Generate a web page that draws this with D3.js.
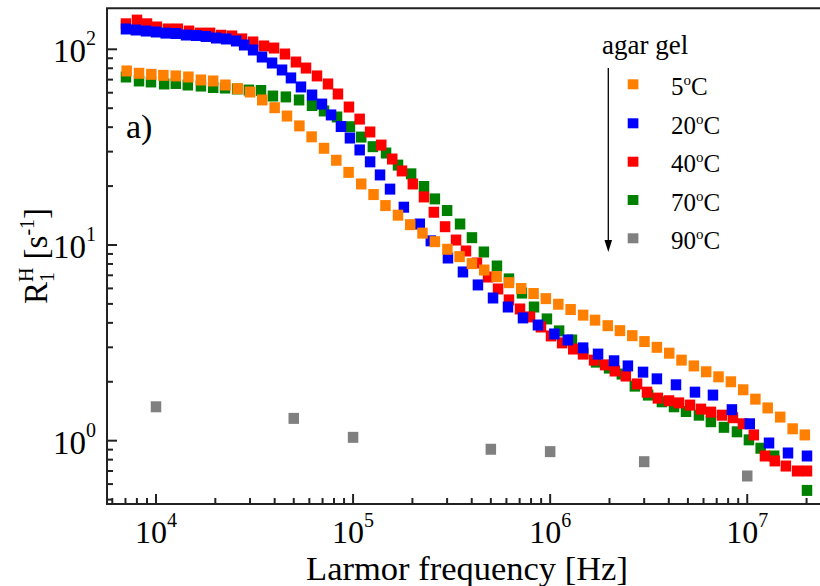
<!DOCTYPE html>
<html>
<head>
<meta charset="utf-8">
<script src="https://cdn.jsdelivr.net/npm/d3@7"></script>
<style>
  body { margin: 0; background: #fff; }
  text { font-family: "Liberation Serif", "Times New Roman", serif; fill: #000; }
</style>
</head>
<body>
<svg width="820" height="586"></svg>
<script>
// agar gel, R1 proton relaxation rate vs Larmor frequency
const freq5 = [7100, 8200, 9470, 10900, 12600, 14600, 16900, 19500, 22500, 26000,
  30000, 34600, 40000, 46200, 53400, 61600, 71200, 82200, 94900, 110000,
  127000, 146000, 169000, 195000, 225000, 260000, 301000, 347000, 401000, 463000,
  535000, 618000, 713000, 824000, 951000, 1100000, 1270000, 1470000, 1690000, 1960000,
  2260000, 2610000, 3010000, 3480000, 4020000, 4640000, 5360000, 6190000, 7150000, 8260000,
  9540000, 11000000, 12700000, 14700000, 17000000, 19600000]
const r1_5 = [77.5, 75.4, 74.5, 73.6, 73.1, 72.2, 69.7, 68.9, 65.7, 62.9,
  60.5, 55.1, 50.3, 45.6, 40.6, 35.7, 31.2, 27.1, 23.5, 20.5,
  18.1, 15.9, 14.2, 12.7, 11.5, 10.4, 9.51, 8.72, 8.03, 7.45,
  6.89, 6.42, 5.99, 5.65, 5.32, 4.98, 4.68, 4.38, 4.13, 3.87,
  3.65, 3.44, 3.21, 3.00, 2.80, 2.58, 2.41, 2.25, 2.12, 2.00,
  1.82, 1.63, 1.47, 1.32, 1.15, 1.07]

const freq20 = [7040, 7910, 8900, 10000, 11200, 12600, 14200, 16000, 17900, 20200,
  22700, 25500, 28000, 31100, 34500, 38800, 43600, 48400, 54400, 61900,
  69500, 77300, 86800, 96400, 108000, 122000, 137000, 154000, 181000, 218000,
  248000, 303000, 361000, 430000, 513000, 611000, 728000, 867000, 1050000, 1230000,
  1470000, 1750000, 2110000, 2480000, 2960000, 3480000, 4350000, 5430000, 6700000, 8360000,
  10300000, 12900000, 16100000, 20100000]
const r1_20 = [127, 125.5, 124, 122.6, 121, 120.4, 118.3, 117.6, 116.3, 114.2,
  112.9, 110.3, 105.2, 99.2, 91.3, 85.1, 78.4, 71.4, 64.2, 58.4,
  52.5, 46.2, 40.3, 35.2, 30.6, 26.6, 22.8, 19.3, 15.6, 12.8,
  10.5, 8.58, 7.28, 6.25, 5.36, 4.82, 4.24, 3.90, 3.51, 3.27,
  2.98, 2.77, 2.56, 2.41, 2.24, 2.07, 1.93, 1.77, 1.71, 1.44,
  1.22, 0.973, 0.865, 0.835]

const freq40 = [7040, 8010, 9000, 10100, 11500, 12900, 14700, 16700, 18800, 21400,
  24300, 27300, 31100, 35300, 39700, 45100, 51300, 57700, 65600, 74600,
  83800, 95300, 108000, 122000, 139000, 158000, 177000, 201000, 229000, 257000,
  293000, 333000, 374000, 425000, 484000, 544000, 618000, 703000, 790000, 898000,
  1010000, 1150000, 1310000, 1470000, 1670000, 1900000, 2130000, 2420000, 2760000, 3100000,
  3520000, 4010000, 4500000, 5120000, 5820000, 6540000, 7440000, 8460000, 9510000, 10800000,
  12300000, 13800000, 15700000, 17900000, 20100000]
const r1_40 = [135, 141, 135, 130, 127, 127, 124, 121, 121, 118,
  117, 113, 109, 104, 101.5, 94.6, 86.1, 80.2, 73.1, 66.5,
  59.1, 50.7, 44.0, 37.8, 32.4, 27.5, 23.9, 20.5, 17.6, 14.7,
  12.4, 10.6, 9.32, 8.09, 6.86, 5.96, 5.24, 4.71, 4.29, 3.81,
  3.43, 3.16, 2.94, 2.77, 2.58, 2.44, 2.27, 2.14, 1.95, 1.77,
  1.65, 1.60, 1.56, 1.52, 1.45, 1.40, 1.35, 1.31, 1.22, 1.07,
  0.835, 0.788, 0.742, 0.700, 0.700]

const freq70 = [7040, 8200, 9430, 11000, 12600, 14500, 16900, 19500, 22400, 25800,
  29600, 34100, 39200, 45600, 53200, 61900, 71200, 82900, 96400, 110000,
  126000, 147000, 169000, 197000, 229000, 260000, 300000, 349000, 401000, 461000,
  537000, 618000, 719000, 828000, 963000, 1110000, 1290000, 1470000, 1710000, 1990000,
  2310000, 2690000, 3140000, 3690000, 4250000, 4890000, 5690000, 6540000, 7620000, 8870000,
  10200000, 11700000, 13700000, 20100000]
const r1_70 = [72.2, 68.9, 68.1, 66.5, 66.9, 65.7, 64.9, 63.8, 63.4, 62.7,
  61.9, 61.6, 57.7, 57.1, 55.1, 51.6, 48.4, 45.1, 40.2, 35.6,
  31.8, 29.5, 25.6, 23.1, 19.9, 17.2, 15.0, 12.8, 10.9, 9.21,
  7.81, 6.71, 5.68, 4.82, 4.19, 3.64, 3.27, 2.81, 2.52, 2.35,
  2.19, 1.90, 1.71, 1.58, 1.49, 1.41, 1.35, 1.25, 1.17, 1.11,
  1.01, 0.915, 0.835, 0.557]

const freq90 = [10000, 50000, 100000, 500000, 1000000, 3000000, 10000000]
const r1_90 = [1.49, 1.30, 1.04, 0.904, 0.879, 0.781, 0.660]

const legendTemps = ["5", "20", "40", "70", "90"]
const legendColors = ["#ff8000", "#0000ff", "#ff0000", "#008000", "#808080"]
const xMajor = [1e4, 1e5, 1e6, 1e7]
const xExp = ["4", "5", "6", "7"]
const yMajor = [1, 10, 100]
const yExp = ["0", "1", "2"]

// draw order: last legend entry at the bottom, 5 C on top
const series = [
  {f: freq90, v: r1_90, color: legendColors[4]},
  {f: freq70, v: r1_70, color: legendColors[3]},
  {f: freq40, v: r1_40, color: legendColors[2]},
  {f: freq20, v: r1_20, color: legendColors[1]},
  {f: freq5,  v: r1_5,  color: legendColors[0]}
]

const plotLeft = 107, plotTop = 8.3, plotBottom = 504, plotRight = 830
const svg = d3.select("svg")

const x = d3.scaleLog().domain([5641, 2.63e7]).range([plotLeft, plotRight])
const y = d3.scaleLog().domain([0.4747, 162]).range([plotBottom, plotTop])

function isMajor(d) {
  const l = Math.log10(d)
  return Math.abs(l - Math.round(l)) < 1e-6
}

// markers
series.forEach(function (s) {
  svg.append("g")
    .selectAll("rect")
    .data(s.f.map(function (f, i) { return [f, s.v[i]] }))
    .join("rect")
    .attr("x", d => x(d[0]) - 5.25)
    .attr("y", d => y(d[1]) - 5.5)
    .attr("width", 10.5)
    .attr("height", 11)
    .attr("fill", s.color)
})

// frame
const frame = svg.append("g").attr("stroke", "#222").attr("stroke-width", 2)
frame.append("line").attr("x1", plotLeft).attr("x2", plotLeft).attr("y1", plotTop).attr("y2", plotBottom + 1)
frame.append("line").attr("x1", plotLeft - 1).attr("x2", 820).attr("y1", plotBottom).attr("y2", plotBottom)
frame.append("line").attr("x1", plotLeft - 1).attr("x2", 820).attr("y1", plotTop).attr("y2", plotTop)

// ticks, pointing inside
frame.append("g").selectAll("line")
  .data(x.ticks())
  .join("line")
  .attr("x1", d => x(d)).attr("x2", d => x(d))
  .attr("y1", plotBottom).attr("y2", d => plotBottom - (isMajor(d) ? 10 : 6))

frame.append("g").selectAll("line")
  .data(y.ticks())
  .join("line")
  .attr("y1", d => y(d)).attr("y2", d => y(d))
  .attr("x1", plotLeft).attr("x2", d => plotLeft + (isMajor(d) ? 10 : 6))

// tick labels 10^n
xMajor.forEach(function (d, i) {
  const t = svg.append("text")
    .attr("x", x(d)).attr("y", 543)
    .attr("text-anchor", "middle")
    .style("font-size", "32px")
  t.append("tspan").text("10")
  t.append("tspan").attr("dy", -16).style("font-size", "20px").text(xExp[i])
})

yMajor.forEach(function (d, i) {
  const t = svg.append("text")
    .attr("x", 96).attr("y", y(d) + 13)
    .attr("text-anchor", "end")
    .style("font-size", "33px")
  t.append("tspan").text("10")
  t.append("tspan").attr("dy", -17).style("font-size", "20px").text(yExp[i])
})

// axis titles
svg.append("text")
  .attr("x", 467).attr("y", 580)
  .attr("text-anchor", "middle")
  .style("font-size", "34.5px")
  .text("Larmor frequency [Hz]")

const yt = svg.append("text")
  .attr("transform", "translate(47,256) rotate(-90)")
  .attr("text-anchor", "middle")
  .style("font-size", "33px")
yt.append("tspan").text("R")
yt.append("tspan").attr("dy", 7).style("font-size", "20px").text("1")
yt.append("tspan").attr("dx", -10).attr("dy", -21).style("font-size", "20px").text("H")
yt.append("tspan").attr("dy", 14).text(" [s")
yt.append("tspan").attr("dy", -13).style("font-size", "20px").text("-1")
yt.append("tspan").attr("dy", 13).text("]")

svg.append("text")
  .attr("x", 126).attr("y", 138)
  .style("font-size", "34px")
  .text("a)")

// legend
svg.append("text")
  .attr("x", 602).attr("y", 54)
  .style("font-size", "27px")
  .text("agar gel")

svg.append("line")
  .attr("x1", 608.3).attr("x2", 608.3)
  .attr("y1", 68).attr("y2", 242)
  .attr("stroke", "#000").attr("stroke-width", 1.3)
svg.append("path")
  .attr("d", "M604.5,240 L612.1,240 L608.3,252 Z")
  .attr("fill", "#000")

const legendY = [84.3, 123.3, 161.7, 200, 238.3]
legendTemps.forEach(function (tmp, i) {
  svg.append("rect")
    .attr("x", 627.7).attr("y", legendY[i] - 5)
    .attr("width", 10.7).attr("height", 10)
    .attr("fill", legendColors[i])
  const t = svg.append("text")
    .attr("x", 671).attr("y", legendY[i] + 10.5)
    .style("font-size", "25px")
  t.append("tspan").text(tmp)
  t.append("tspan").attr("dy", -10).style("font-size", "15px").text("o")
  t.append("tspan").attr("dy", 10).text("C")
})
</script>
</body>
</html>
